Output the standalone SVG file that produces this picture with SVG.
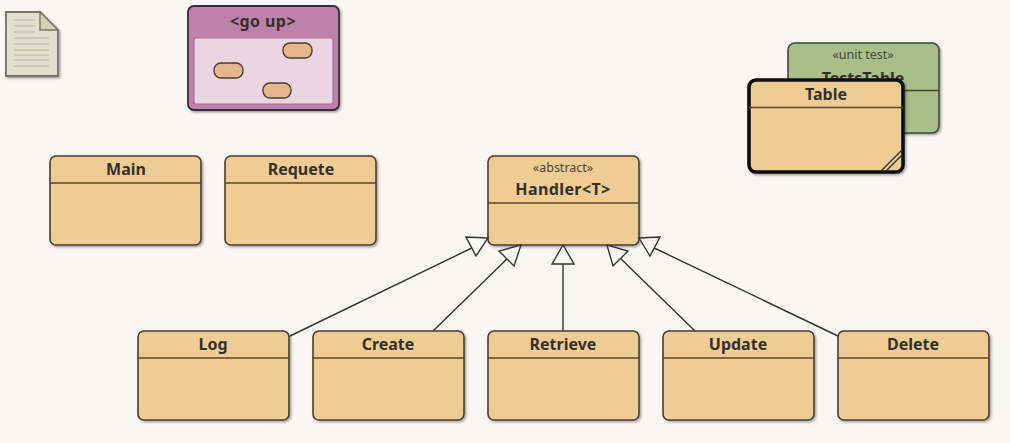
<svg xmlns="http://www.w3.org/2000/svg" width="1010" height="443" viewBox="0 0 1010 443">
<style>
text{font-family:"Noto Sans","Open Sans","Liberation Sans",sans-serif;text-anchor:middle;fill:#33302a}
.t{font-size:16px;font-weight:700}
.w{letter-spacing:.4px}
.s{font-size:12.5px;fill:#4a4538}
.b{fill:#f0cc95;stroke:#4a3d30;stroke-width:1.6;filter:url(#sh)}
.d{stroke:#5f4422;stroke-width:1.6;fill:none}
.c{stroke:#333;stroke-width:1.4;fill:none}
.h{fill:#f8f7f3;stroke:#333;stroke-width:1.4}
.p{fill:#e5b68c;stroke:#4a3d30;stroke-width:1.4}
.l{stroke:#c4c1ae;stroke-width:1.5;fill:none}
</style>
<defs><filter id="sh" x="-5%" y="-5%" width="112%" height="115%"><feDropShadow dx="1.5" dy="1.5" stdDeviation="1.2" flood-color="#000" flood-opacity=".35"/></filter></defs>
<rect width="1010" height="443" fill="#f8f7f3"/>
<g id="note">
<path d="M6 12H40L58 30V76H6Z" fill="#e0decf" stroke="#77736a" stroke-width="1.8" filter="url(#sh)"/>
<path d="M40 12V30H58Z" fill="#d4d0b4" stroke="#77736a" stroke-width="1.4"/>
<path class="l" d="M14 20H35M14 26H35M14 32H35M14 38H49M14 44H49M14 50H49M14 55H49M14 60H49M14 66H49"/>
</g>
<g id="go-up">
<rect x="188" y="6" width="151" height="104" rx="6" fill="#be82aa" stroke="#3a2a3a" stroke-width="1.8" filter="url(#sh)"/>
<text class="t w" x="263" y="27">&lt;go up&gt;</text>
<rect x="194" y="38" width="139" height="66" rx="2" fill="#ead6e2" stroke="#a56f95" stroke-width="1.2"/>
<rect class="p" x="283" y="43" width="29" height="15" rx="7"/>
<rect class="p" x="214" y="63" width="29" height="15" rx="7"/>
<rect class="p" x="263" y="83" width="28" height="15" rx="7"/>
</g>
<g id="TestsTable">
<rect x="788" y="43" width="151" height="90" rx="7" fill="#a8bf8a" stroke="#3f4a38" stroke-width="1.6" filter="url(#sh)"/>
<path d="M788 90.500H939" stroke="#3f4a30" stroke-width="1.4"/>
<text class="s" x="863" y="59" style="fill:#3f4a38">«unit test»</text>
<text class="t" x="863" y="84">TestsTable</text>
</g>
<g id="Table">
<rect x="749" y="80" width="154" height="92" rx="7" fill="#f0cc95" stroke="#111" stroke-width="3.6" filter="url(#sh)"/>
<path class="d" d="M749 107.500H903"/>
<text class="t" x="826" y="100">Table</text>
<path d="M881 171L902 150M886 171L902 155" stroke="#333" stroke-width="1.4" fill="none"/>
</g>
<g id="Main"><rect class="b" x="50" y="156" width="151" height="89" rx="6"/><path class="d" d="M50 183H201"/><text class="t" x="126" y="175">Main</text></g>
<g id="Requete"><rect class="b" x="225" y="156" width="151" height="89" rx="6"/><path class="d" d="M225 183H376"/><text class="t" x="301" y="175">Requete</text></g>
<g id="Handler"><rect class="b" x="488" y="156" width="151" height="89" rx="6"/><path class="d" d="M488 203H639"/><text class="s" x="563" y="172">«abstract»</text><text class="t w" x="563" y="195">Handler&lt;T&gt;</text></g>
<g id="Log"><rect class="b" x="138" y="331" width="151" height="89" rx="6"/><path class="d" d="M138 358H289"/><text class="t" x="213" y="350">Log</text></g>
<g id="Create"><rect class="b" x="313" y="331" width="151" height="89" rx="6"/><path class="d" d="M313 358H464"/><text class="t" x="388" y="350">Create</text></g>
<g id="Retrieve"><rect class="b" x="488" y="331" width="151" height="89" rx="6"/><path class="d" d="M488 358H639"/><text class="t" x="563" y="350">Retrieve</text></g>
<g id="Update"><rect class="b" x="663" y="331" width="151" height="89" rx="6"/><path class="d" d="M663 358H814"/><text class="t" x="738" y="350">Update</text></g>
<g id="Delete"><rect class="b" x="838" y="331" width="151" height="89" rx="6"/><path class="d" d="M838 358H989"/><text class="t" x="913" y="350">Delete</text></g>
<g id="connectors">
<path class="c" d="M290 336L476 246"/><path class="h" d="M488 238L466 237L476 256Z"/>
<path class="c" d="M433 331L510 256"/><path class="h" d="M521 245L499 251L514 266Z"/>
<path class="c" d="M563 331V264"/><path class="h" d="M563 245L552 264H574Z"/>
<path class="c" d="M695 331L618 256"/><path class="h" d="M607 245L613 266L628 251Z"/>
<path class="c" d="M838 336L650 246"/><path class="h" d="M639 238L650 256L660 237Z"/>
</g>
</svg>
